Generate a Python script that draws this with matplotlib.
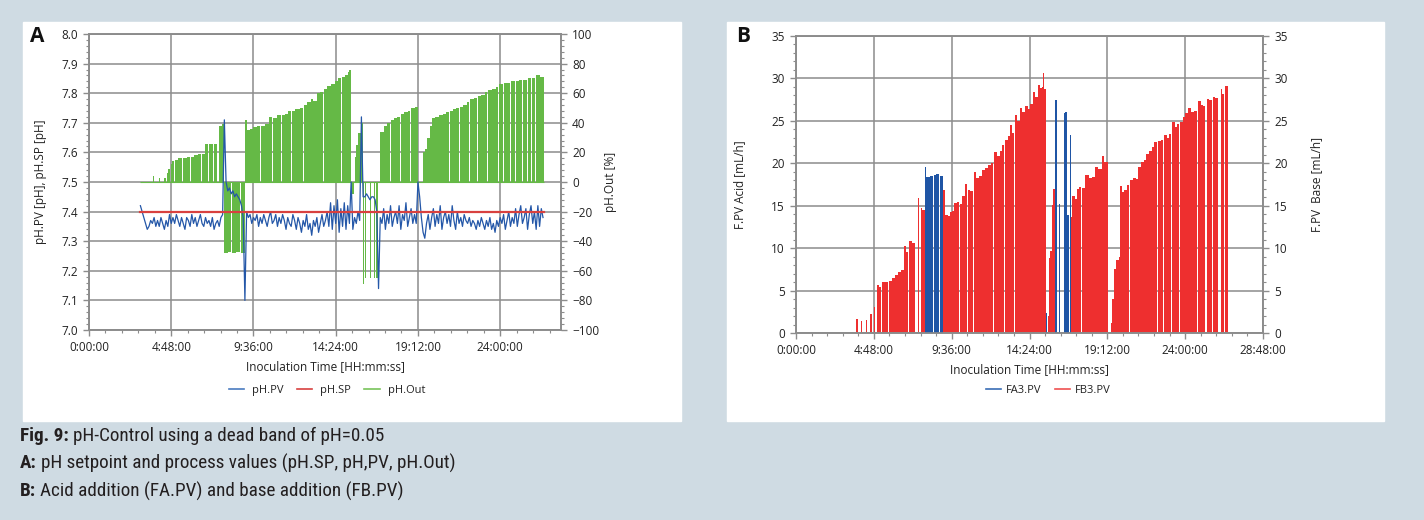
import numpy as np
import matplotlib.pyplot as plt
from matplotlib import font_manager
from matplotlib.patches import Rectangle
from matplotlib.lines import Line2D
from matplotlib.ticker import MultipleLocator, FuncFormatter

# ---- panel A: pH.PV (every 0.1 h from 3.0 h)
pv_start = 3.0
pv_step = 0.1
ph_pv = [
    7.42, 7.40, 7.38, 7.36, 7.34, 7.35, 7.37, 7.36, 7.38, 7.35,   # 3 h
    7.37, 7.35, 7.38, 7.36, 7.34, 7.37, 7.35, 7.39, 7.36, 7.38,   # 4 h
    7.36, 7.39, 7.37, 7.35, 7.38, 7.36, 7.34, 7.38, 7.37, 7.35,   # 5 h
    7.39, 7.36, 7.38, 7.35, 7.37, 7.39, 7.36, 7.35, 7.38, 7.36,   # 6 h
    7.37, 7.35, 7.38, 7.34, 7.36, 7.37, 7.35, 7.38, 7.39, 7.71,   # 7 h
    7.50, 7.47, 7.48, 7.46, 7.47, 7.45, 7.46, 7.45, 7.44, 7.42,   # 8 h
    7.38, 7.10, 7.40, 7.38, 7.39, 7.36, 7.38, 7.37, 7.39, 7.35,   # 9 h
    7.38, 7.36, 7.39, 7.37, 7.35, 7.38, 7.40, 7.36, 7.37, 7.39,   # 10 h
    7.35, 7.38, 7.36, 7.39, 7.37, 7.34, 7.38, 7.36, 7.35, 7.39,   # 11 h
    7.37, 7.34, 7.38, 7.36, 7.33, 7.37, 7.35, 7.39, 7.34, 7.36,   # 12 h
    7.32, 7.37, 7.35, 7.38, 7.33, 7.36, 7.39, 7.35, 7.37, 7.40,   # 13 h
    7.35, 7.43, 7.34, 7.42, 7.36, 7.44, 7.33, 7.41, 7.35, 7.43,   # 14 h
    7.34, 7.42, 7.36, 7.50, 7.34, 7.38, 7.36, 7.40, 7.37, 7.72,   # 15 h
    7.45, 7.45, 7.46, 7.45, 7.44, 7.45, 7.45, 7.44, 7.40, 7.14,   # 16 h
    7.38, 7.36, 7.41, 7.34, 7.39, 7.36, 7.42, 7.35, 7.38, 7.40,   # 17 h
    7.36, 7.42, 7.34, 7.39, 7.37, 7.43, 7.35, 7.38, 7.41, 7.36,   # 18 h
    7.39, 7.36, 7.50, 7.45, 7.38, 7.33, 7.31, 7.36, 7.39, 7.34,   # 19 h
    7.38, 7.41, 7.35, 7.39, 7.36, 7.42, 7.34, 7.38, 7.40, 7.36,   # 20 h
    7.39, 7.35, 7.42, 7.37, 7.34, 7.40, 7.36, 7.38, 7.35, 7.39,   # 21 h
    7.37, 7.36, 7.38, 7.35, 7.37, 7.36, 7.34, 7.37, 7.35, 7.38,   # 22 h
    7.36, 7.34, 7.37, 7.35, 7.38, 7.34, 7.36, 7.33, 7.37, 7.35,   # 23 h
    7.38, 7.36, 7.39, 7.34, 7.37, 7.40, 7.35, 7.38, 7.36, 7.41,   # 24 h
    7.35, 7.39, 7.42, 7.36, 7.38, 7.41, 7.34, 7.39, 7.42, 7.36,   # 25 h
    7.40, 7.34, 7.42, 7.35, 7.41, 7.38,                           # 26 h
]
sp_t = [3.0, 26.55]
sp_v = [7.40, 7.40]

# pH.Out [%]: block start times and levels
out_t = [3.00, 3.72, 3.80, 4.06, 4.14, 4.40, 4.48, 4.56, 4.64, 4.72,
         4.78, 4.86, 4.94, 5.00, 5.20, 5.40, 5.46, 5.70, 5.90, 5.96,
         6.15, 6.35, 6.55, 6.60, 6.75, 6.95, 7.00, 7.25, 7.30, 7.50,
         7.60, 7.75, 7.90, 8.10, 8.30, 8.36, 8.60, 8.80, 8.86, 9.10,
         9.20, 9.40, 9.55, 9.60, 9.80, 10.00, 10.05, 10.30, 10.50, 10.70,
         10.75, 10.95, 11.20, 11.25, 11.45, 11.60, 11.80, 11.85, 12.05, 12.30,
         12.50, 12.55, 12.75, 12.95, 13.05, 13.10, 13.30, 13.50, 13.65, 13.70,
         13.90, 14.10, 14.15, 14.35, 14.55, 14.70, 14.75, 14.95, 15.10, 15.20,
         15.30, 15.45, 15.50, 15.60, 15.70, 15.85, 15.97, 16.05, 16.12, 16.19,
         16.38, 16.45, 16.62, 16.69, 16.78, 16.85, 16.98, 17.20, 17.40, 17.55,
         17.60, 17.80, 18.00, 18.15, 18.20, 18.40, 18.60, 18.75, 18.80, 19.00,
         19.20, 19.50, 19.62, 19.75, 19.88, 20.00, 20.20, 20.40, 20.45, 20.65,
         20.85, 21.00, 21.05, 21.25, 21.45, 21.60, 21.65, 21.85, 22.05, 22.20,
         22.25, 22.45, 22.65, 22.70, 22.90, 23.10, 23.25, 23.30, 23.50, 23.55,
         23.75, 23.90, 23.95, 24.15, 24.20, 24.40, 24.60, 24.65, 24.85, 24.90,
         25.10, 25.30, 25.35, 25.55, 25.60, 25.80, 25.85, 26.05, 26.10, 26.30,
         26.35]
out_v = [0, 4, 0, 3, 0, 3, 0, 6, 9, 0,
         12, 14, 0, 15, 16, 0, 16, 17, 0, 17,
         18, 19, 0, 19, 26, 0, 26, 0, 26, 0,
         38, 39, -48, -47, 0, -48, -47, 0, -48, 42,
         35, 36, 0, 37, 38, 0, 38, 39, 44, 0,
         43, 45, 0, 45, 46, 48, 0, 48, 49, 50,
         0, 52, 54, 56, 0, 55, 60, 61, 0, 63,
         65, 0, 66, 68, 70, 0, 71, 72, 74, 76,
         -8, 0, 17, 25, 33, 40, -69, 0, -65, 0,
         -65, 0, -65, 0, -65, 0, 34, 38, 40, 0,
         42, 43, 44, 0, 46, 47, 48, 0, 50, 51,
         0, 20, 22, 30, 38, 43, 44, 0, 45, 46,
         47, 0, 48, 49, 50, 0, 51, 52, 54, 0,
         56, 57, 0, 58, 59, 61, 0, 62, 0, 63,
         64, 0, 66, 0, 67, 67, 0, 68, 0, 68,
         69, 0, 69, 0, 70, 0, 70, 0, 72, 0,
         71]
out_end = 26.55

# ---- panel B: base (FB3.PV) and acid (FA3.PV) flow [mL/h]
fb_t = [2.92, 3.72, 3.80, 4.02, 4.10, 4.32, 4.40, 4.58, 4.66, 4.82,
        4.90, 4.98, 5.10, 5.25, 5.32, 5.50, 5.70, 5.75, 5.95, 6.10,
        6.30, 6.50, 6.65, 6.78, 6.90, 6.97, 7.15, 7.35, 7.50, 7.58,
        7.68, 7.80, 7.93, 9.08, 9.18, 9.35, 9.50, 9.62, 9.75, 9.90,
        10.05, 10.10, 10.25, 10.40, 10.55, 10.60, 10.75, 10.90, 10.95, 11.10,
        11.30, 11.45, 11.50, 11.65, 11.85, 12.00, 12.15, 12.20, 12.40, 12.55,
        12.70, 12.85, 12.90, 13.05, 13.20, 13.35, 13.45, 13.50, 13.65, 13.80,
        13.95, 14.10, 14.15, 14.30, 14.45, 14.60, 14.75, 14.90, 15.05, 15.15,
        15.25, 15.32, 15.40, 15.52, 15.58, 15.68, 15.76, 15.85, 15.95, 16.98,
        17.05, 17.20, 17.30, 17.45, 17.60, 17.65, 17.85, 18.05, 18.25, 18.45,
        18.60, 18.65, 18.85, 19.00, 19.27, 19.40, 19.50, 19.62, 19.75, 19.90,
        19.98, 20.10, 20.25, 20.40, 20.55, 20.60, 20.80, 20.95, 21.10, 21.25,
        21.30, 21.45, 21.60, 21.75, 21.80, 21.95, 22.10, 22.25, 22.30, 22.50,
        22.65, 22.70, 22.85, 23.00, 23.15, 23.20, 23.35, 23.50, 23.65, 23.70,
        23.85, 24.00, 24.15, 24.20, 24.35, 24.55, 24.70, 24.80, 24.95, 25.10,
        25.25, 25.35, 25.50, 25.65, 25.70, 25.85, 26.00, 26.20, 26.30, 26.40,
        26.45]
fb_v = [0, 1.6, 0, 1.4, 0, 1.5, 0, 2.2, 0, 3.1,
        0, 5.6, 5.4, 0, 6.0, 6.0, 0, 6.1, 6.5, 6.8,
        7.2, 7.4, 10.2, 9.5, 0, 10.9, 10.6, 0, 15.9, 0,
        14.7, 14.5, 0, 16.9, 13.9, 13.8, 14.3, 14.4, 15.3, 15.4,
        0, 15.2, 16.1, 17.6, 0, 16.9, 16.7, 0, 19.0, 18.3,
        18.5, 0, 19.2, 19.5, 19.8, 20.0, 0, 21.3, 20.8, 21.5,
        22.2, 0, 22.8, 23.2, 24.5, 23.6, 0, 25.7, 25.0, 26.5,
        26.1, 0, 26.8, 26.4, 27.0, 28.4, 27.8, 29.2, 28.9, 29.0,
        30.6, 28.7, 0, 2.0, 8.8, 9.7, 15.1, 17.0, 0, 13.7,
        16.1, 15.8, 17.0, 17.2, 0, 17.1, 18.6, 18.3, 18.4, 19.6,
        0, 19.3, 20.8, 20.2, 0, 1.2, 4.0, 7.5, 8.6, 9.0,
        17.3, 16.6, 16.9, 17.5, 0, 18.0, 18.3, 18.1, 19.6, 0,
        20.2, 20.4, 21.1, 0, 21.5, 21.9, 22.5, 0, 22.6, 22.7,
        0, 23.3, 23.0, 23.5, 0, 24.9, 24.3, 24.6, 0, 24.9,
        25.5, 25.9, 0, 26.5, 26.1, 26.2, 0, 27.3, 26.9, 26.7,
        0, 27.6, 27.5, 0, 27.8, 27.7, 0, 28.8, 28.2, 0,
        29.1]
fb_end = 26.65

fa_t = [2.92, 7.95, 8.02, 8.25, 8.42, 8.48, 8.65, 8.82, 8.88, 9.08,
        15.42, 15.48, 15.97, 16.08, 16.19, 16.28, 16.50, 16.60, 16.70, 16.73,
        16.85, 16.90]
fa_v = [0, 19.6, 18.4, 18.5, 0, 18.6, 18.7, 0, 18.5, 0,
        2.3, 0, 27.5, 0, 15.2, 0, 25.9, 26.0, 0, 13.9,
        0, 23.3]
fa_end = 16.98

caption = ["pH-Control using a dead band of pH=0.05",
           "pH setpoint and process values (pH.SP, pH,PV, pH.Out)",
           "Acid addition (FA.PV) and base addition (FB.PV)"]
caption_heads = ["Fig. 9:", "A:", "B:"]

# ---- styles
BG = '#cfdbe3'
GRID = '#8c8c8c'
TXT = '#222222'
GREEN = '#65b946'
BLUE = '#2457a8'
RED_SP = '#d8413f'
RED = '#ee2f2f'
BLUE_B = '#1f55a5'

plt.rcParams['font.family'] = ['Open Sans', 'DejaVu Sans']
names = {f.name for f in font_manager.fontManager.ttflist}
cap_font = 'Open Sans'
for f in ['Liberation Sans Narrow', 'Roboto Condensed', 'Open Sans Condensed']:
    if f in names:
        cap_font = f
        break

W, H = 1424, 520
fig = plt.figure(figsize=(W / 100, H / 100), dpi=100, facecolor=BG)

# white panels (behind the axes)
fig.patches.append(Rectangle((23 / W, 1 - 421 / H), 658 / W, 399 / H,
                             transform=fig.transFigure, color='white', zorder=-5))
fig.patches.append(Rectangle((727 / W, 1 - 421 / H), 657 / W, 399 / H,
                             transform=fig.transFigure, color='white', zorder=-5))


def hms(x, pos):
    s = int(round(x * 3600))
    return f"{s // 3600}:{s % 3600 // 60:02d}:{s % 60:02d}"


def style(ax):
    for sp in ax.spines.values():
        sp.set_color(GRID)
        sp.set_linewidth(1.2)
    ax.tick_params(which='both', direction='out', color=GRID, labelcolor=TXT,
                   labelsize=8.5, pad=4)
    ax.tick_params(which='major', length=4, width=1)
    ax.tick_params(which='minor', length=2.5, width=0.8)


# ================= panel A
axA = fig.add_axes([89 / W, 1 - 330 / H, 472 / W, 296 / H])
axA.set_facecolor('none')
axP = axA.twinx()   # pH scale, drawn above the green output

edges = out_t + [out_end]
axA.stairs(out_v, edges, fill=True, color=GREEN, linewidth=0, zorder=2)
axA.hlines(0, out_t[0], out_end, color=GREEN, lw=0.8, zorder=2)
axA.set_ylim(-100, 100)
axA.set_xlim(0, 27.55)
axA.yaxis.set_major_locator(MultipleLocator(20))
axA.yaxis.set_minor_locator(MultipleLocator(4))
axA.xaxis.set_major_locator(MultipleLocator(4.8))
axA.xaxis.set_minor_locator(MultipleLocator(0.96))
axA.xaxis.set_major_formatter(FuncFormatter(hms))
axA.yaxis.tick_right()
axA.yaxis.set_label_position('right')
axA.grid(True, which='major', color=GRID, lw=1.1)
axA.set_axisbelow(True)
style(axA)
axA.set_ylabel("pH.Out [%]", fontsize=8.5, color=TXT)
axA.yaxis.set_label_coords(1.091, 0.5)
axA.set_xlabel("Inoculation Time [HH:mm:ss]", fontsize=8.5, color=TXT)
axA.xaxis.set_label_coords(0.5, -0.10)

pv_t = pv_start + pv_step * np.arange(len(ph_pv))
axP.plot(pv_t, ph_pv, color=BLUE, lw=0.9, zorder=3)
axP.plot(sp_t, sp_v, color=RED_SP, lw=1.6, zorder=4)
axP.set_ylim(7.0, 8.0)
axP.yaxis.set_major_locator(MultipleLocator(0.1))
axP.yaxis.set_minor_locator(MultipleLocator(0.02))
axP.yaxis.set_major_formatter(FuncFormatter(lambda v, p: f"{v:.1f}"))
axP.yaxis.tick_left()
axP.yaxis.set_label_position('left')
style(axP)
axP.set_ylabel("pH.PV [pH], pH.SP [pH]", fontsize=8.5, color=TXT)
axP.yaxis.set_label_coords(-0.089, 0.5)

hA = [Line2D([], [], color='#4a7cc0', lw=1.2),
      Line2D([], [], color=RED_SP, lw=1.2),
      Line2D([], [], color='#78c35a', lw=1.2)]
axP.legend(hA, ["pH.PV", "pH.SP", "pH.Out"], loc='center',
           bbox_to_anchor=(0.504, -0.203), ncol=3, frameon=False, fontsize=8,
           handlelength=1.4, handletextpad=0.7, columnspacing=1.2,
           labelcolor=TXT)

# ================= panel B
axB = fig.add_axes([796 / W, 1 - 333 / H, 467 / W, 297 / H])
axB.set_facecolor('none')
axB2 = axB.twinx()

axB.stairs(fb_v, fb_t + [fb_end], fill=True, color=RED, linewidth=0, zorder=2)
axB.hlines(0, fb_t[0], fb_end, color=RED, lw=0.8, zorder=2)
axB.stairs(fa_v, fa_t + [fa_end], fill=True, color=BLUE_B, linewidth=0, zorder=3)
axB.set_ylim(0, 35)
axB.set_xlim(0, 28.8)
axB.yaxis.set_major_locator(MultipleLocator(5))
axB.yaxis.set_minor_locator(MultipleLocator(1))
axB.xaxis.set_major_locator(MultipleLocator(4.8))
axB.xaxis.set_minor_locator(MultipleLocator(0.96))
axB.xaxis.set_major_formatter(FuncFormatter(hms))
axB.grid(True, which='major', color=GRID, lw=1.1)
axB.set_axisbelow(True)
style(axB)
axB.set_ylabel("F.PV Acid [mL/h]", fontsize=8.5, color=TXT)
axB.yaxis.set_label_coords(-0.107, 0.5)
axB.set_xlabel("Inoculation Time [HH:mm:ss]", fontsize=8.5, color=TXT)
axB.xaxis.set_label_coords(0.5, -0.10)

axB2.set_ylim(0, 35)
axB2.yaxis.set_major_locator(MultipleLocator(5))
axB2.yaxis.set_minor_locator(MultipleLocator(1))
style(axB2)
axB2.set_ylabel("F.PV  Base [mL/h]", fontsize=8.5, color=TXT)
axB2.yaxis.set_label_coords(1.10, 0.5)

hB = [Line2D([], [], color='#3a6db5', lw=1.2),
      Line2D([], [], color='#ef5050', lw=1.2)]
axB.legend(hB, ["FA3.PV", "FB3.PV"], loc='center',
           bbox_to_anchor=(0.54, -0.193), ncol=2, frameon=False, fontsize=8,
           handlelength=1.4, handletextpad=0.4, columnspacing=1.2,
           labelcolor=TXT)

# panel letters
fig.text(30 / W, 1 - 37 / H, "A", fontsize=15, weight='bold', color='#111',
         va='center')
fig.text(736 / W, 1 - 37 / H, "B", fontsize=15, weight='bold', color='#111',
         va='center')

# caption
r = fig.canvas.get_renderer()
for i, (head, body) in enumerate(zip(caption_heads, caption)):
    y = 1 - (436 + 27.5 * i) / H
    t = fig.text(20 / W, y, head, fontsize=13.8, weight='bold',
                 family=cap_font, color='#231f20', va='center')
    bb = t.get_window_extent(renderer=r)
    fig.text((bb.x1 + 4) / W, y, body, fontsize=13.8, family=cap_font,
             color='#231f20', va='center')

fig.savefig('out.png', dpi=100, facecolor=BG)
